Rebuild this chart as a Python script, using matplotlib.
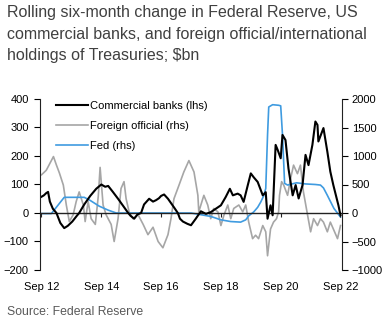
import matplotlib
matplotlib.use("Agg")
import matplotlib.pyplot as plt
from matplotlib.lines import Line2D

plt.rcParams['font.family'] = ['Liberation Sans', 'DejaVu Sans']

# ---- data (decimal years) ----
cb_x = [2012.67, 2012.75, 2012.83, 2012.89, 2012.95, 2013.05, 2013.17, 2013.3, 2013.43, 2013.55,
        2013.7, 2013.85, 2013.93, 2014.1, 2014.3, 2014.5, 2014.67, 2014.8, 2014.9, 2015.05,
        2015.23, 2015.4, 2015.57, 2015.65, 2015.77, 2015.88, 2016.0, 2016.1, 2016.27, 2016.4,
        2016.5, 2016.6, 2016.67, 2016.77, 2016.9, 2017.0, 2017.1, 2017.23, 2017.3, 2017.4,
        2017.55, 2017.67, 2017.83, 2018.0, 2018.17, 2018.33, 2018.5, 2018.67, 2018.83, 2018.97,
        2019.07, 2019.23, 2019.33, 2019.43, 2019.57, 2019.67, 2019.77, 2019.9, 2020.07, 2020.17,
        2020.23, 2020.33, 2020.4, 2020.5, 2020.57, 2020.67, 2020.73, 2020.83, 2020.93, 2021.07,
        2021.17, 2021.27, 2021.4, 2021.5, 2021.6, 2021.73, 2021.83, 2021.9, 2021.93, 2022.1,
        2022.23, 2022.33, 2022.43, 2022.6, 2022.67]
cb_y = [57, 62, 70, 74, 40, 15, 0, -35, -53, -45,
        -30, -10, 0, 30, 60, 85, 100, 92, 95, 75,
        50, 25, 0, -10, -20, -5, 0, 30, 50, 40,
        45, 52, 60, 65, 50, 35, 20, 0, -20, -30,
        -38, -43, -20, 6, -3, 3, 15, 27, 56, 85,
        62, 68, 62, 39, 98, 139, 125, 109, 62, 73,
        -20, 27, -8, 239, 221, 192, 274, 256, 156, 62,
        98, 51, 98, 204, 168, 239, 321, 309, 251, 298,
        215, 145, 98, 27, -8]

fed_x = [2012.67, 2013.0, 2013.43, 2014.1, 2014.3, 2014.6, 2014.9, 2015.17, 2017.67, 2018.0,
         2018.33, 2018.67, 2019.0, 2019.33, 2019.5, 2019.6, 2019.77, 2019.9, 2020.0, 2020.1,
         2020.17, 2020.23, 2020.27, 2020.4, 2020.6, 2020.67, 2020.73, 2020.8, 2020.9, 2021.2,
         2021.5, 2021.83, 2022.0, 2022.1, 2022.23, 2022.45, 2022.67]
fed_y = [-10, -10, 275, 275, 220, 120, 50, 0, 0, -30,
         -60, -120, -150, -160, -120, -50, 20, 100, 190, 300,
         430, 1370, 1860, 1900, 1890, 1880, 1370, 520, 490, 530,
         510, 500, 490, 440, 310, 80, -70]

fo_x = [2012.67, 2012.83, 2013.07, 2013.17, 2013.27, 2013.4, 2013.5, 2013.6, 2013.73, 2013.83,
        2013.93, 2014.07, 2014.13, 2014.23, 2014.33, 2014.47, 2014.57, 2014.63, 2014.73, 2014.83,
        2015.0, 2015.1, 2015.23, 2015.33, 2015.43, 2015.5, 2015.6, 2015.73, 2015.9, 2016.07,
        2016.23, 2016.4, 2016.57, 2016.73, 2016.9, 2017.0, 2017.1, 2017.27, 2017.43, 2017.6,
        2017.77, 2017.9, 2017.93, 2018.0, 2018.1, 2018.23, 2018.33, 2018.43, 2018.57, 2018.67,
        2018.77, 2018.9, 2019.0, 2019.1, 2019.27, 2019.4, 2019.5, 2019.6, 2019.73, 2019.83,
        2019.93, 2020.07, 2020.17, 2020.23, 2020.33, 2020.43, 2020.53, 2020.6, 2020.63, 2020.7,
        2020.77, 2020.9, 2021.0, 2021.1, 2021.23, 2021.33, 2021.43, 2021.57, 2021.67, 2021.77,
        2021.9, 2022.0, 2022.1, 2022.23, 2022.33, 2022.43, 2022.57, 2022.67]
fo_y = [670, 750, 990, 840, 700, 490, 140, -150, -30, 200,
        370, 140, -150, 200, -100, -200, 300, 800, 140, -30,
        -200, -500, -100, 430, 550, 250, 20, -100, -30, -200,
        -380, -250, -500, -610, -380, -100, 250, 490, 720, 920,
        720, 310, 20, 140, 310, 140, -100, 80, 20, -220,
        -40, 140, -100, 80, 140, 20, 140, -160, -450, -390,
        -450, -220, -330, -750, -280, -160, -100, 20, 310, 550,
        490, 310, 600, 840, 690, 840, 370, -40, -330, -100,
        -220, -100, -160, -330, -160, -280, -450, -220]

tick_pos = [2012.667, 2014.667, 2016.667, 2018.667, 2020.667, 2022.667]
tick_lab = ['Sep 12', 'Sep 14', 'Sep 16', 'Sep 18', 'Sep 20', 'Sep 22']

title = ("Rolling six-month change in Federal Reserve, US\n"
         "commercial banks, and foreign official/international\n"
         "holdings of Treasuries; $bn")

# ---- figure ----
fig = plt.figure(figsize=(3.82, 3.28), dpi=100)
ax = fig.add_axes([40/382, 1-270/328, 302/382, 171/328])
ax2 = ax.twinx()

GRAY = '#a6a6a6'
BLUE = '#3f9be0'

ax2.plot(fo_x, fo_y, color=GRAY, lw=1.2)
ax2.plot(fed_x, fed_y, color=BLUE, lw=1.2)
ax.plot(cb_x, cb_y, color='black', lw=1.5)

ax.set_zorder(ax2.get_zorder() + 1)
ax.patch.set_visible(False)

ax.set_xlim(2012.62, 2022.72)
ax.set_ylim(-200, 400)
ax2.set_ylim(-1000, 2000)
ax.set_yticks(range(-200, 401, 100))
ax2.set_yticks(range(-1000, 2001, 500))

for a in (ax, ax2):
    a.spines['top'].set_visible(False)
    a.spines['bottom'].set_visible(False)
ax.spines['right'].set_visible(False)
ax2.spines['left'].set_visible(False)
ax.spines['left'].set_color('#222222')
ax2.spines['right'].set_color('#222222')

ax.tick_params(axis='y', direction='out', length=4, width=0.8, pad=4, labelsize=8,
               colors='black')
ax2.tick_params(axis='y', direction='out', length=4, width=0.8, pad=3, labelsize=8,
                colors='black')

ax.set_xticks(tick_pos)
ax.set_xticklabels(tick_lab)
ax.tick_params(axis='x', length=0, pad=9, labelsize=8, colors='black')

# zero line with ticks
sec = ax.secondary_xaxis(1/3)
sec.set_xticks(tick_pos)
sec.set_xticklabels([])
sec.tick_params(axis='x', direction='out', length=3, width=0.8, color='#222222')
sec.spines['bottom'].set_color('#222222')
sec.spines['bottom'].set_linewidth(1.0)

handles = [Line2D([], [], color='black', lw=1.5),
           Line2D([], [], color=GRAY, lw=1.2),
           Line2D([], [], color=BLUE, lw=1.2)]
labels = ['Commercial banks (lhs)', 'Foreign official (rhs)', 'Fed (rhs)']
leg = ax.legend(handles, labels, loc='upper left', bbox_to_anchor=(56/382, 1-101/328),
                bbox_transform=fig.transFigure, frameon=False, fontsize=8,
                handlelength=2.9, handletextpad=0.15, labelspacing=0.9,
                borderpad=0, borderaxespad=0)

fig.text(7/382, 1-5/328, title, ha='left', va='top', fontsize=11.5, color='#404040',
         linespacing=1.55)
fig.text(7/382, 1-312/328, 'Source: Federal Reserve', ha='left', va='center',
         fontsize=8.8, color='#595959')

fig.savefig('out.png', dpi=100)
